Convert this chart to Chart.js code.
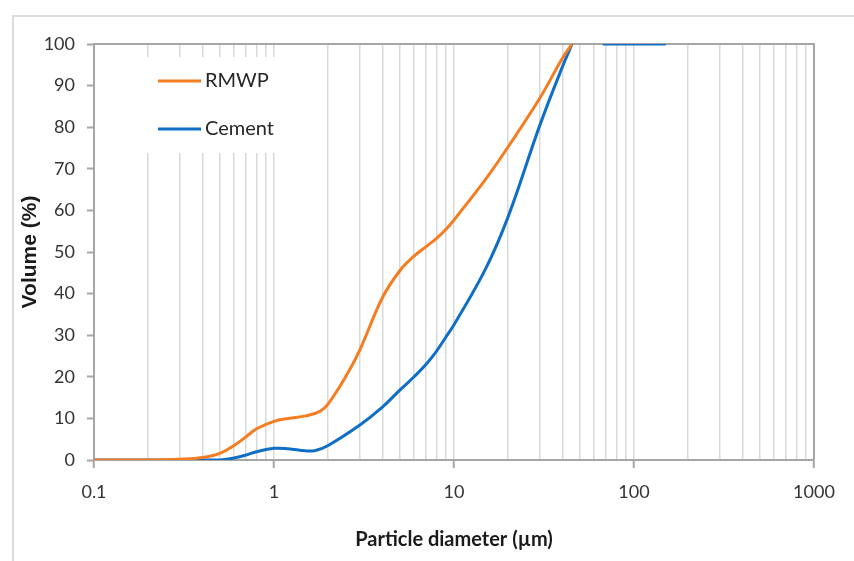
<!DOCTYPE html>
<html>
<head>
<meta charset="utf-8">
<script src="https://cdn.jsdelivr.net/npm/chart.js@4.4.1/dist/chart.umd.min.js"></script>
<style>
  html, body { margin: 0; padding: 0; background: #fff; }
</style>
</head>
<body>
<canvas id="psd" width="854" height="561"></canvas>
<script>
// particle size distribution
var rmwpSize   = [0.1, 0.2, 0.3, 0.4, 0.5, 0.6, 0.7, 0.8, 1.0, 1.2, 1.5, 1.8, 2, 2.5, 3, 4, 5, 6, 7, 8, 9, 10, 15, 20, 30, 40, 45.3];
var rmwpVolume = [0, 0, 0.2, 0.6, 1.6, 3.5, 5.6, 7.5, 9.3, 10, 10.6, 11.7, 13.5, 20, 26.5, 39, 45.5, 49, 51.3, 53.3, 55.4, 57.7, 67.5, 75.3, 87, 96.6, 100];

var cementSize   = [0.1, 0.3, 0.5, 0.6, 0.7, 0.8, 1.0, 1.2, 1.5, 1.7, 2, 3, 4, 5, 6, 7, 8, 9, 10, 15, 20, 30, 40, 45.3, 55, 67, 100, 150];
var cementVolume = [0, 0, 0, 0.5, 1.2, 2, 2.8, 2.7, 2.2, 2.3, 3.5, 8.4, 12.7, 16.8, 20, 23, 26.2, 29.5, 32.5, 46, 58.5, 80.5, 94.5, 100, null, 100, 100, 100];

var xTickLabels = [0.1, 1, 10, 100, 1000];
var yTicks = [0, 10, 20, 30, 40, 50, 60, 70, 80, 90, 100];

// vertical grid at every 1..9 of each decade
var gridValues = [];
[0.1, 1, 10, 100].forEach(function(d) {
    for (var m = 1; m <= 9; m++) gridValues.push(Number((m * d).toPrecision(3)));
});
gridValues.push(1000);

var orange = '#F47D22';
var blue = '#0F6EC6';
var axisGray = '#A6A6A6';
var gridGray = '#D9D9D9';
var fontFamily = 'Lato, "Open Sans", sans-serif';

function toPoints(xs, ys) {
    return xs.map(function(x, i) { return { x: x, y: ys[i] }; });
}

// outer frame, top/right plot border and the inset legend
var decorations = {
    id: 'decorations',
    beforeDatasetsDraw: function(chart) {
        var c = chart.ctx, a = chart.chartArea;
        c.save();
        c.strokeStyle = '#D0D0D0';
        c.lineWidth = 1.5;
        c.beginPath();
        c.moveTo(13, 561); c.lineTo(13, 16); c.lineTo(854, 16);
        c.stroke();

        c.strokeStyle = axisGray;
        c.lineWidth = 2;
        c.beginPath();
        c.moveTo(a.left, a.top); c.lineTo(a.right, a.top); c.lineTo(a.right, a.bottom);
        c.stroke();

        // legend box hides the grid behind it
        c.fillStyle = '#fff';
        c.fillRect(140, 57, 144, 96);
        var items = [
            { label: 'RMWP', color: orange, y: 81 },
            { label: 'Cement', color: blue, y: 129 }
        ];
        c.font = '20px ' + fontFamily;
        c.textBaseline = 'middle';
        items.forEach(function(it) {
            c.strokeStyle = it.color;
            c.lineWidth = 3;
            c.beginPath();
            c.moveTo(158, it.y); c.lineTo(201, it.y);
            c.stroke();
            c.fillStyle = '#262626';
            c.fillText(it.label, 205, it.y);
        });
        c.restore();
    }
};

var ctx = document.getElementById('psd').getContext('2d');
var chart = new Chart(ctx, {
    type: 'line',
    data: {
        datasets: [{
            label: 'RMWP',
            data: toPoints(rmwpSize, rmwpVolume),
            borderColor: orange,
            borderWidth: 3,
            pointRadius: 0,
            tension: 0.4
        }, {
            label: 'Cement',
            data: toPoints(cementSize, cementVolume),
            borderColor: blue,
            borderWidth: 3,
            pointRadius: 0,
            spanGaps: false,
            tension: 0.4
        }]
    },
    options: {
        responsive: false,
        animation: false,
        layout: { padding: { top: 44, right: 40, left: 0, bottom: 0 } },
        plugins: {
            legend: { display: false },
            tooltip: { enabled: false }
        },
        scales: {
            x: {
                type: 'logarithmic',
                min: 0.1,
                max: 1000,
                afterBuildTicks: function(scale) {
                    scale.ticks = gridValues.map(function(v) {
                        return { value: v, major: xTickLabels.indexOf(v) >= 0 };
                    });
                },
                afterFit: function(scale) { scale.height = 101; },
                ticks: {
                    autoSkip: false,
                    maxRotation: 0,
                    padding: 13,
                    color: '#333',
                    font: { family: fontFamily, size: 18 },
                    callback: function(value) {
                        return xTickLabels.indexOf(value) >= 0 ? String(value) : '';
                    }
                },
                grid: {
                    color: gridGray,
                    lineWidth: 1.5,
                    tickLength: 8,
                    tickWidth: 2,
                    tickColor: function(c) {
                        return c.tick && xTickLabels.indexOf(c.tick.value) >= 0 ? axisGray : 'rgba(0,0,0,0)';
                    }
                },
                border: { color: axisGray, width: 2 },
                title: {
                    display: true,
                    text: 'Particle diameter (µm)',
                    color: '#1a1a1a',
                    font: { family: fontFamily, size: 20, weight: 'bold' },
                    padding: { top: 0, bottom: 9 }
                }
            },
            y: {
                min: 0,
                max: 100,
                afterBuildTicks: function(scale) {
                    scale.ticks = yTicks.map(function(v) { return { value: v }; });
                },
                afterFit: function(scale) { scale.width = 94; },
                ticks: {
                    padding: 12,
                    color: '#333',
                    font: { family: fontFamily, size: 18 }
                },
                grid: {
                    drawOnChartArea: false,
                    tickLength: 7,
                    tickWidth: 2,
                    tickColor: axisGray
                },
                border: { color: axisGray, width: 2 },
                title: {
                    display: true,
                    text: 'Volume (%)',
                    color: '#1a1a1a',
                    font: { family: '"Liberation Sans", Arial, sans-serif', size: 21, weight: 'bold' },
                    padding: { top: 18, bottom: 0 }
                }
            }
        }
    },
    plugins: [decorations]
});
</script>
</body>
</html>
